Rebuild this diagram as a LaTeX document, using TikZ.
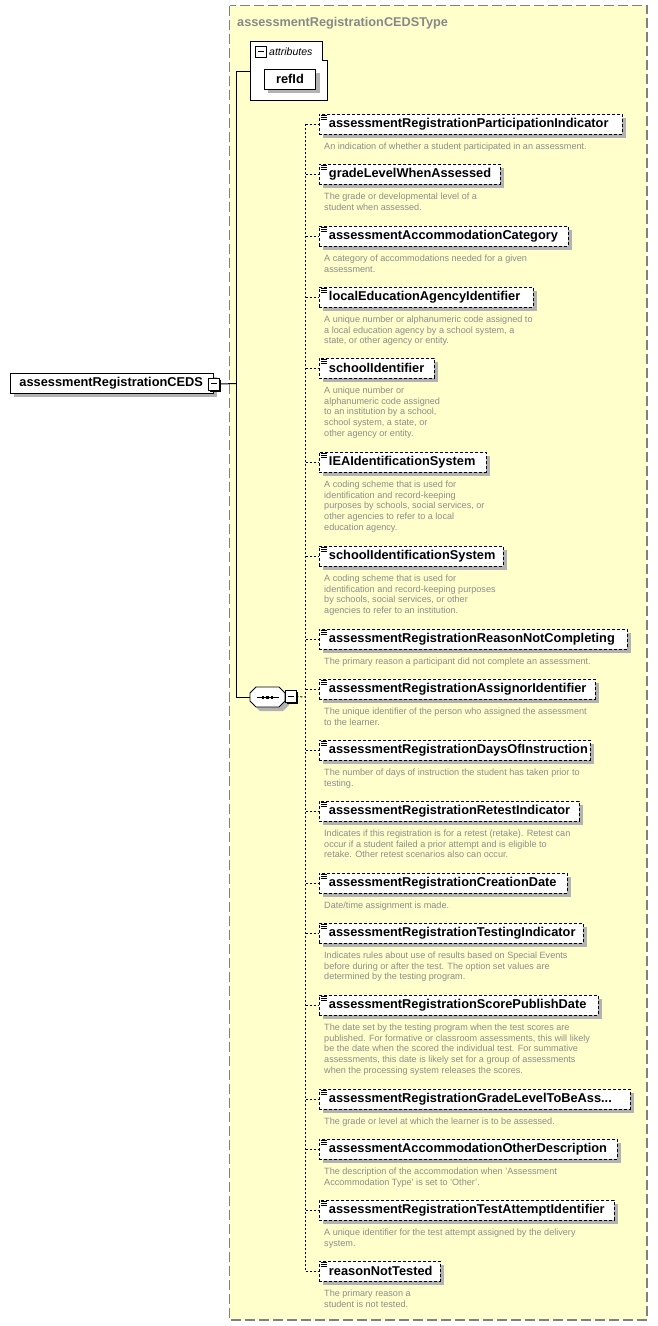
\documentclass[tikz,border=0pt]{standalone}
\usepackage{fontspec}
\setmainfont{Liberation Sans}
\usetikzlibrary{calc}
\definecolor{bgyel}{RGB}{255,255,204}
\definecolor{shd}{RGB}{178,178,178}
\definecolor{descc}{RGB}{140,140,140}
\definecolor{titc}{RGB}{136,136,136}
\definecolor{outerc}{RGB}{128,128,128}
\tikzset{
  kidbox/.style={draw, dash pattern=on 3pt off 2pt, line width=0.9pt, fill=white,
    anchor=west, minimum height=20pt, inner xsep=9.5pt, inner ysep=0pt,
    font=\fontsize{12.8}{14}\selectfont\bfseries},
  descnode/.style={anchor=north west, inner sep=0pt, align=left, text=descc,
    font=\fontsize{9.1}{10.8}\selectfont},
  conn/.style={draw, dash pattern=on 2pt off 2pt, line width=1pt},
  solidconn/.style={draw, line width=1pt},
  minusbox/.style={draw, fill=white, line width=0.9pt, minimum width=11pt, minimum height=12pt, inner sep=0pt},
  iconline/.style={line width=0.8pt},
}
\newcommand\kidrow[5]{%
  \pgfmathsetmacro\kw{#3-319-19}%
  \fill[shd] (323,#2-6) rectangle (#3+4,#2+14);
  \node[kidbox] (k#1) at (319,#2) {\makebox[\kw pt][l]{#4}};
  \draw[iconline] ($(k#1.north west)+(2,1.8)$) -- ++(6,0);
  \draw[iconline] ($(k#1.north west)+(2,3.6)$) -- ++(6,0);
  \draw[iconline] ($(k#1.north west)+(2,5.4)$) -- ++(6,0);
  \node[descnode] (d#1) at (324,#2+18.5) {#5};
  \draw[conn] (k#1.west -| sv) -- (k#1.west);
}
\newcommand\octpath[3]{% center x, center y, style
  \path[#3] (#1-11.5,#2-10) -- (#1+11.5,#2-10) -- (#1+17.5,#2-4) -- (#1+17.5,#2+4) --
    (#1+11.5,#2+10) -- (#1-11.5,#2+10) -- (#1-17.5,#2+4) -- (#1-17.5,#2-4) -- cycle;
}
\begin{document}
\begin{tikzpicture}[x=1pt,y=-1pt]
\useasboundingbox (0,0) rectangle (657,1326);
% outer type box
\draw[fill=bgyel, draw=outerc, line width=1.3pt, dash pattern=on 10pt off 4pt] (229.5,5.5) rectangle (647,1320);
\node[anchor=base west, inner sep=0pt, text=titc, font=\fontsize{12.7}{14}\selectfont\bfseries] (title) at (237,26) {assessmentRegistrationCEDSType};
% root element
\fill[shd] (14,377) rectangle (217,397);
\node[draw, fill=white, line width=0.9pt, anchor=west, minimum height=20pt, inner xsep=9pt, inner ysep=0pt,
  font=\fontsize{12.8}{14}\selectfont\bfseries] (root) at (10,383) {\makebox[185pt][l]{assessmentRegistrationCEDS}};
\fill[black] (209.5,379.5) rectangle (220.5,391.5);
\node[minusbox] (rootm) at (213.5,384) {\rule[0.2pt]{6pt}{1pt}};
% attributes box
\draw[fill=white, line width=0.9pt] (250,41.5) -- (322.5,41.5) -- (322.5,60.5) -- (327.5,60.5) -- (327.5,100) -- (250,100) -- cycle;
\coordinate (attrL) at (250,71.5);
\node[draw, fill=white, line width=0.9pt, minimum width=11pt, minimum height=11pt, inner sep=0pt] (attrm) at (261,52) {\rule[0.2pt]{6pt}{1pt}};
\node[anchor=base west, inner sep=0pt, font=\fontsize{10.5}{12}\selectfont\itshape] (attrt) at (269,55) {attributes};
\fill[shd] (268,73.3) rectangle (320,93.3);
\node[draw, fill=white, line width=0.9pt, minimum width=51pt, minimum height=20pt, inner sep=0pt,
  font=\fontsize{12.8}{14}\selectfont\bfseries] (refid) at (290,79.3) {refId};
% sequence compositor
\octpath{271.5}{701}{fill=shd}
\octpath{267.5}{697}{fill=white, draw, line width=0.9pt}
\node[minimum width=35pt, minimum height=20pt, inner sep=0pt] (seq) at (267.5,697.5) {};
\draw[line width=0.9pt] ($(seq.center)+(-11,0)$) -- ($(seq.center)+(11,0)$);
\foreach \dx in {-4.5,0,4.5} \fill ($(seq.center)+(\dx-1.3,-1.2)$) rectangle ++(2.6,2.4);
\fill[black] (286.5,692) rectangle (297.5,704);
\node[minusbox] (seqm) at (290.5,696.5) {\rule[0.2pt]{6pt}{1pt}};
% trunk
\coordinate (trunk) at (236.5,383.5);
\draw[solidconn] (rootm.east) -- (trunk);
\draw[solidconn] (attrL) -| (trunk) |- (seq.west);
% sequence vertical line
\coordinate (sv) at (305.5,697);
\draw[conn] (seqm.east) -- (sv);
% children
\kidrow{1}{124}{622}{assessmentRegistrationParticipationIndicator}{An indication of whether a student participated in an assessment.}
\kidrow{2}{174}{500}{gradeLevelWhenAssessed}{The grade or developmental level of a\\student when assessed.}
\kidrow{3}{236}{568}{assessmentAccommodationCategory}{A category of accommodations needed for a given\\assessment.}
\kidrow{4}{297}{533}{localEducationAgencyIdentifier}{A unique number or alphanumeric code assigned to\\a local education agency by a school system, a\\state, or other agency or entity.}
\kidrow{5}{368}{434}{schoolIdentifier}{A unique number or\\alphanumeric code assigned\\to an institution by a school,\\school system, a state, or\\other agency or entity.}
\kidrow{6}{462}{486}{IEAIdentificationSystem}{A coding scheme that is used for\\identification and record-keeping\\purposes by schools, social services, or\\other agencies to refer to a local\\education agency.}
\kidrow{7}{556}{503}{schoolIdentificationSystem}{A coding scheme that is used for\\identification and record-keeping purposes\\by schools, social services, or other\\agencies to refer to an institution.}
\kidrow{8}{639}{627}{assessmentRegistrationReasonNotCompleting}{The primary reason a participant did not complete an assessment.}
\kidrow{9}{689}{595}{assessmentRegistrationAssignorIdentifier}{The unique identifier of the person who assigned the assessment\\to the learner.}
\kidrow{10}{750}{590}{assessmentRegistrationDaysOfInstruction}{The number of days of instruction the student has taken prior to\\testing.}
\kidrow{11}{811}{579}{assessmentRegistrationRetestIndicator}{Indicates if this registration is for a retest (retake). Retest can\\occur if a student failed a prior attempt and is eligible to\\retake. Other retest scenarios also can occur.}
\kidrow{12}{883}{567}{assessmentRegistrationCreationDate}{Date/time assignment is made.}
\kidrow{13}{933}{583}{assessmentRegistrationTestingIndicator}{Indicates rules about use of results based on Special Events\\before during or after the test. The option set values are\\determined by the testing program.}
\kidrow{14}{1005}{598}{assessmentRegistrationScorePublishDate}{The date set by the testing program when the test scores are\\published. For formative or classroom assessments, this will likely\\be the date when the scored the individual test. For summative\\assessments, this date is likely set for a group of assessments\\when the processing system releases the scores.}
\kidrow{15}{1099}{630}{assessmentRegistrationGradeLevelToBeAss...}{The grade or level at which the learner is to be assessed.}
\kidrow{16}{1149}{617}{assessmentAccommodationOtherDescription}{The description of the accommodation when 'Assessment\\Accommodation Type' is set to 'Other'.}
\kidrow{17}{1210}{614}{assessmentRegistrationTestAttemptIdentifier}{A unique identifier for the test attempt assigned by the delivery\\system.}
\kidrow{18}{1271}{440}{reasonNotTested}{The primary reason a\\student is not tested.}
\draw[conn] (sv |- k1.west) -- (sv |- k18.west);
\end{tikzpicture}
\end{document}
